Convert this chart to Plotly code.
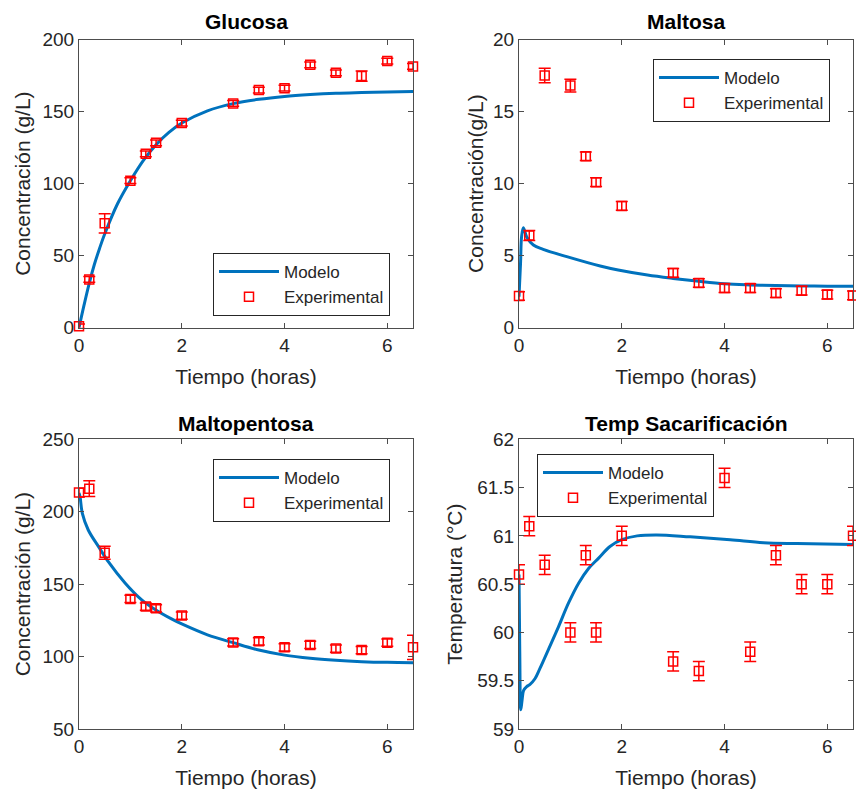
import plotly.graph_objects as go
from plotly.subplots import make_subplots

# ---- experimental sampling times (h) ----
t_exp = [0, 0.2, 0.5, 1, 1.3, 1.5, 2, 3, 3.5, 4, 4.5, 5, 5.5, 6, 6.5]

# ---- Glucosa ----
glu_exp = [1.0, 33.5, 72.4, 102.0, 120.7, 128.3, 142.0, 155.6, 164.9, 166.2, 182.4, 176.9, 174.6, 185.0, 181.3]
glu_err = [1.5, 2.0, 6.7, 2.0, 2.0, 2.0, 2.0, 2.0, 2.0, 2.0, 2.0, 2.0, 3.5, 2.0, 2.0]
t_glu_mod = [0, 0.1, 0.2, 0.3, 0.4, 0.5, 0.75, 1.0, 1.25, 1.5, 1.75, 2.0, 2.5, 3.0, 3.5, 4.0, 4.5, 5.0, 5.5, 6.0, 6.5]
glu_mod = [0, 16, 31, 44, 55, 65, 86, 102, 116, 127, 135.5, 142, 150.5, 155.5, 158.5, 160.5, 161.8, 162.7, 163.2, 163.6, 163.9]

# ---- Maltosa ----
mal_exp = [2.2, 6.4, 17.5, 16.8, 11.9, 10.1, 8.45, 3.8, 3.1, 2.75, 2.75, 2.4, 2.57, 2.3, 2.24]
mal_err = [0.3, 0.35, 0.5, 0.45, 0.3, 0.3, 0.3, 0.3, 0.3, 0.3, 0.3, 0.3, 0.3, 0.3, 0.3]
t_mal_mod = [0, 0.03, 0.05, 0.084, 0.15, 0.28, 0.47, 0.93, 1.58, 1.93, 2.5, 3.0, 3.5, 4.0, 4.5, 5.0, 5.5, 6.0, 6.5]
mal_mod = [2.15, 4.47, 6.3, 6.94, 6.3, 5.74, 5.44, 4.93, 4.28, 4.0, 3.65, 3.42, 3.22, 3.05, 2.97, 2.92, 2.9, 2.88, 2.87]

# ---- Maltopentosa ----
mpt_exp = [213.2, 215.9, 171.7, 139.8, 134.5, 133.3, 128.3, 109.8, 110.5, 106.4, 108.0, 105.5, 104.5, 109.6, 106.4]
mpt_err = [3.0, 5.4, 4.5, 2.5, 2.5, 2.5, 2.5, 2.5, 2.5, 2.5, 2.5, 2.5, 2.5, 2.5, 8.4]
t_mpt_mod = [0, 0.02, 0.065, 0.18, 0.38, 0.57, 0.9, 1.22, 1.48, 1.8, 2.0, 2.5, 3.0, 3.5, 4.0, 4.5, 5.0, 5.5, 6.0, 6.5]
mpt_mod = [213.0, 210.4, 198.9, 187.4, 175.9, 165.5, 150.6, 139.1, 132.5, 126.0, 122.5, 115.0, 109.6, 104.5, 101.0, 98.8, 97.4, 96.5, 96.0, 95.8]

# ---- Temperatura de sacarificacion ----
tmp_exp = [60.6, 61.1, 60.7, 60.0, 60.8, 60.0, 61.0, 59.7, 59.6, 61.6, 59.8, 60.8, 60.5, 60.5, 61.0]
tmp_err = [0.1] * 15
t_tmp_mod = [0, 0.015, 0.035, 0.06, 0.09, 0.15, 0.21, 0.31, 0.41, 0.57, 0.77, 0.96, 1.16, 1.35, 1.55, 1.77, 2.0, 2.3,
             2.68, 3.33, 4.11, 4.76, 5.41, 6.5]
tmp_mod = [60.6, 59.8, 59.2, 59.3, 59.4, 59.44, 59.46, 59.52, 59.63, 59.82, 60.06, 60.30, 60.51, 60.66, 60.77, 60.89,
           60.96, 61.0, 61.01, 60.99, 60.96, 60.93, 60.92, 60.91]

BLUE = "#0072BD"
RED = "#FF0000"
TXT = "#262626"
AX = "#4d4d4d"
FONT = "Liberation Sans, Arial, sans-serif"

fig = make_subplots(rows=2, cols=2)

panels = [
    (1, 1, t_glu_mod, glu_mod, glu_exp, glu_err, "legend"),
    (1, 2, t_mal_mod, mal_mod, mal_exp, mal_err, "legend2"),
    (2, 1, t_mpt_mod, mpt_mod, mpt_exp, mpt_err, "legend3"),
    (2, 2, t_tmp_mod, tmp_mod, tmp_exp, tmp_err, "legend4"),
]

for r, c, tm, ym, ye, er, lg in panels:
    fig.add_trace(go.Scatter(
        x=tm, y=ym, mode="lines", name="Modelo",
        line=dict(color=BLUE, width=3, shape="spline", smoothing=1.0),
        legend=lg, cliponaxis=True,
    ), row=r, col=c)
    fig.add_trace(go.Scatter(
        x=t_exp, y=ye, mode="markers", name="Experimental",
        marker=dict(symbol="square-open", size=9, color=RED, line=dict(width=1.5, color=RED)),
        error_y=dict(type="data", array=er, visible=True, color=RED, thickness=1.5, width=6),
        legend=lg, cliponaxis=False,
    ), row=r, col=c)

xl = [79 / 856, 413 / 856]
xr = [519 / 856, 853 / 856]
yt = [1 - 327.7 / 791, 1 - 39.5 / 791]
yb = [1 - 729 / 791, 1 - 439.3 / 791]

axis_common = dict(
    showline=True, mirror="ticks", linecolor=AX, linewidth=1,
    ticks="inside", ticklen=5, tickcolor=AX, tickwidth=1,
    showgrid=False, zeroline=False, automargin=False,
    tickfont=dict(family=FONT, size=19, color=TXT),
)

fig.update_layout(
    xaxis=dict(domain=xl, range=[0, 6.5], dtick=2, **axis_common),
    xaxis2=dict(domain=xr, range=[0, 6.5], dtick=2, **axis_common),
    xaxis3=dict(domain=xl, range=[0, 6.5], dtick=2, **axis_common),
    xaxis4=dict(domain=xr, range=[0, 6.5], dtick=2, **axis_common),
    yaxis=dict(domain=yt, range=[0, 200], dtick=50, **axis_common),
    yaxis2=dict(domain=yt, range=[0, 20], dtick=5, **axis_common),
    yaxis3=dict(domain=yb, range=[50, 250], dtick=50, **axis_common),
    yaxis4=dict(domain=yb, range=[59, 62], dtick=0.5, **axis_common),
)

title_font = dict(family=FONT, size=21, color=TXT)
for ax in ["xaxis", "xaxis2", "xaxis3", "xaxis4"]:
    fig.layout[ax].title = dict(text="Tiempo (horas)", font=title_font, standoff=14)
fig.layout.yaxis.title = dict(text="Concentración (g/L)", font=title_font, standoff=6)
fig.layout.yaxis2.title = dict(text="Concentración(g/L)", font=title_font, standoff=3)
fig.layout.yaxis3.title = dict(text="Concentración (g/L)", font=title_font, standoff=6)
fig.layout.yaxis4.title = dict(text="Temperatura (°C)", font=title_font, standoff=8)

leg_common = dict(
    bgcolor="white", bordercolor="#262626", borderwidth=1,
    font=dict(family=FONT, size=17, color=TXT),
    xanchor="left", yanchor="top", itemwidth=60, tracegroupgap=0,
)
fig.update_layout(
    legend=dict(x=213 / 856, y=1 - 253 / 791, **leg_common),
    legend2=dict(x=653 / 856, y=1 - 59 / 791, **leg_common),
    legend3=dict(x=213 / 856, y=1 - 459 / 791, **leg_common),
    legend4=dict(x=537 / 856, y=1 - 454 / 791, **leg_common),
)

titles = [
    ("Glucosa", (xl[0] + xl[1]) / 2, 1 - 22 / 791),
    ("Maltosa", (xr[0] + xr[1]) / 2, 1 - 22 / 791),
    ("Maltopentosa", (xl[0] + xl[1]) / 2, 1 - 423 / 791),
    ("Temp Sacarificación", (xr[0] + xr[1]) / 2, 1 - 423 / 791),
]
for text, x, y in titles:
    fig.add_annotation(
        text=f"<b>{text}</b>", x=x, y=y, xref="paper", yref="paper",
        xanchor="center", yanchor="middle", showarrow=False,
        font=dict(family=FONT, size=21, color="black"),
    )

fig.update_layout(
    width=856, height=791,
    margin=dict(l=0, r=0, t=0, b=0),
    paper_bgcolor="white", plot_bgcolor="white",
    font=dict(family=FONT, color=TXT),
)

fig.write_html("out.html")
